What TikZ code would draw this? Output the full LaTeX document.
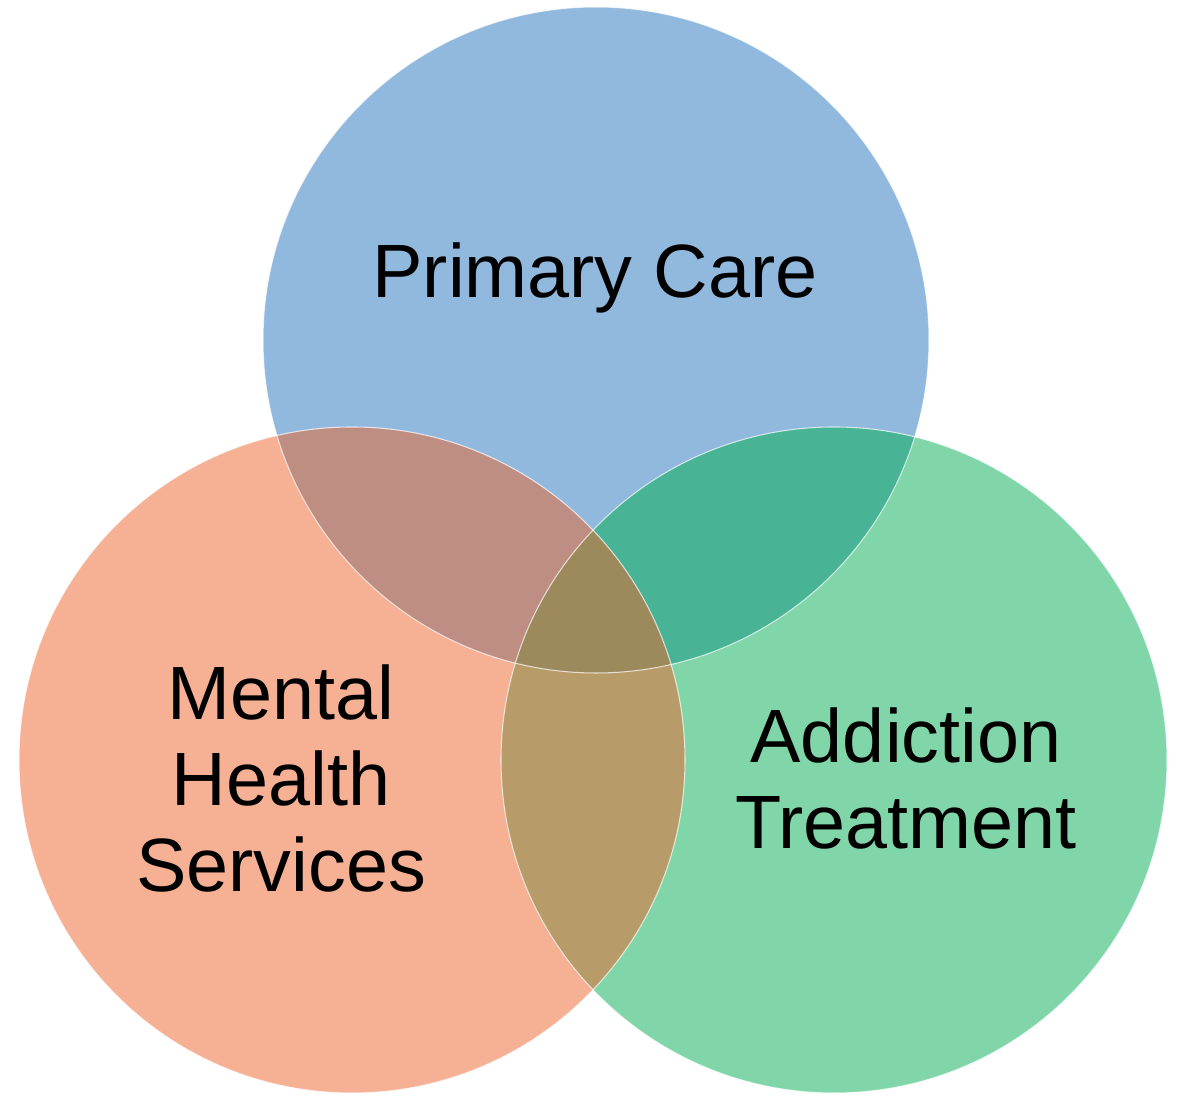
\documentclass[tikz,border=0pt]{standalone}
\usepackage{fontspec}
\setmainfont{Liberation Sans}
\definecolor{careblue}{HTML}{91B9DE}
\definecolor{mentalorange}{HTML}{F6B094}
\definecolor{addictgreen}{HTML}{80D6A8}
\definecolor{caremental}{HTML}{BF8E82}
\definecolor{careaddict}{HTML}{48B495}
\definecolor{mentaladdict}{HTML}{B79B68}
\definecolor{allthree}{HTML}{9C8A5C}
\begin{document}
\begin{tikzpicture}[rim/.style={draw=white,draw opacity=0.7,line width=0.6pt},
            label/.style={font=\fontsize{43}{49}\selectfont,align=center,anchor=base,inner sep=0pt}]
            \useasboundingbox (0,0) rectangle (23.58,21.92);
            \coordinate (care) at (11.92,15.12);
            \coordinate (mental) at (7.04,6.72);
            \coordinate (addict) at (16.68,6.72);
            \fill[careblue] (care) circle (6.66);
            \fill[mentalorange] (mental) circle (6.66);
            \fill[addictgreen] (addict) circle (6.66);
            \begin{scope}
                \clip (care) circle (6.66);
                \fill[caremental] (mental) circle (6.66);
                \fill[careaddict] (addict) circle (6.66);
            \end{scope}
            \begin{scope}
                \clip (mental) circle (6.66);
                \fill[mentaladdict] (addict) circle (6.66);
                \clip (addict) circle (6.66);
                \fill[allthree] (care) circle (6.66);
            \end{scope}
            \draw[rim] (care) circle (6.66);
            \draw[rim] (mental) circle (6.66);
            \draw[rim] (addict) circle (6.66);
            \node[label] (carelabel) at (11.9,15.96) {Primary Care};
            \node[label] (mentallabel) at (5.62,4.08) {Mental\\Health\\Services};
            \node[label] (addictlabel) at (18.12,4.94) {Addiction\\Treatment};
        \end{tikzpicture}
\end{document}
